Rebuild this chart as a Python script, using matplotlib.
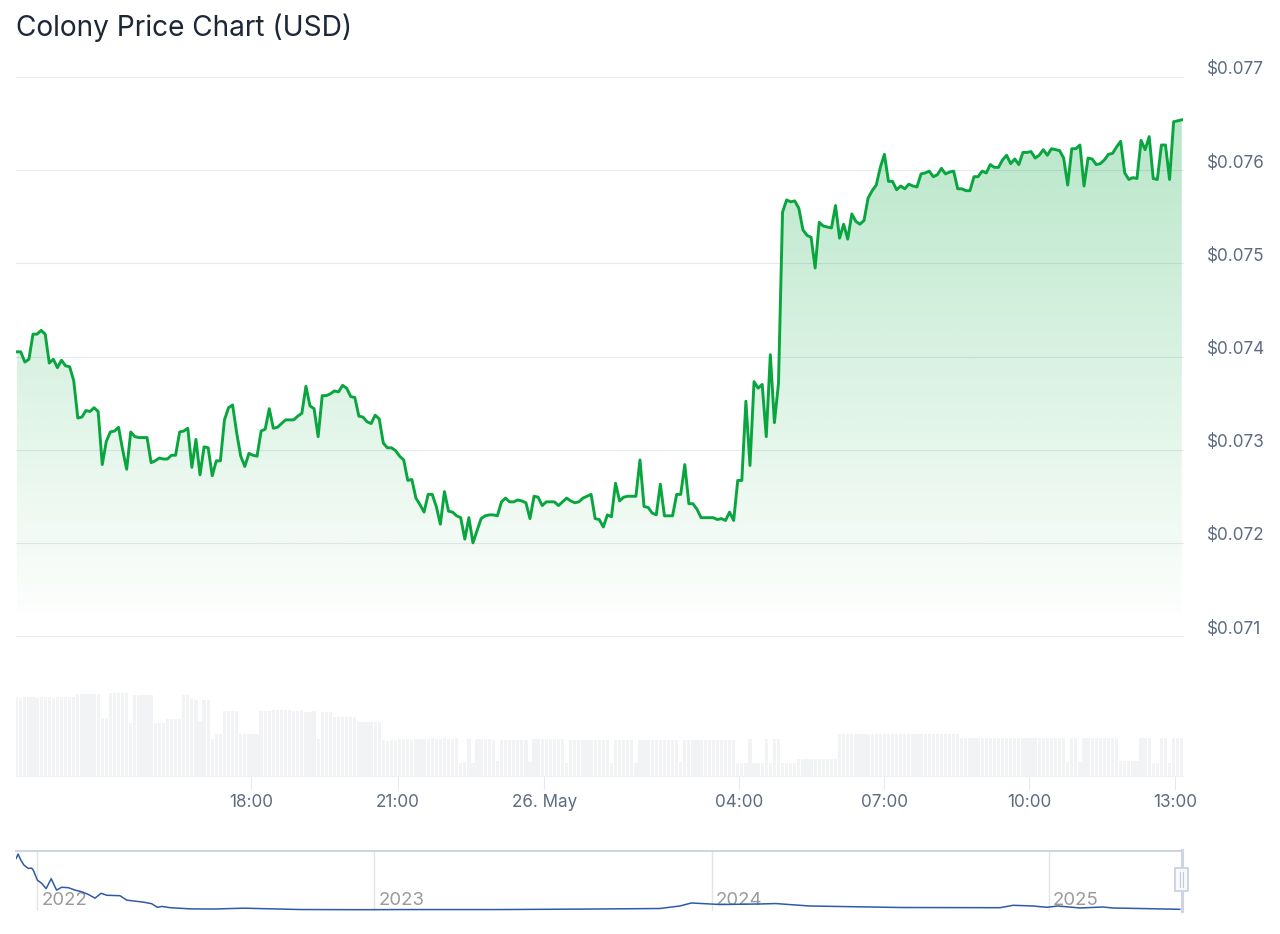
import matplotlib
matplotlib.use('Agg')
import matplotlib.pyplot as plt
import numpy as np
from matplotlib.patches import Rectangle, Polygon
from matplotlib.lines import Line2D
from matplotlib.transforms import ScaledTranslation

W, H = 1280, 934

# price, one reading every 5 minutes
price = [
    0.07405, 0.07405, 0.07394, 0.07397, 0.07424, 0.07424, 0.07428, 0.07424, 0.07393, 0.07397,
    0.07388, 0.07396, 0.07390, 0.07389, 0.07374, 0.07334, 0.07335, 0.07342, 0.07341, 0.07345,
    0.07341, 0.07284, 0.07309, 0.07319, 0.07320, 0.07324, 0.07300, 0.07279, 0.07319, 0.07314,
    0.07313, 0.07313, 0.07313, 0.07286, 0.07288, 0.07291, 0.07290, 0.07290, 0.07294, 0.07294,
    0.07319, 0.07320, 0.07323, 0.07281, 0.07311, 0.07273, 0.07303, 0.07302, 0.07272, 0.07288,
    0.07288, 0.07332, 0.07345, 0.07348, 0.07318, 0.07293, 0.07282, 0.07296, 0.07294, 0.07293,
    0.07320, 0.07322, 0.07344, 0.07323, 0.07324, 0.07328, 0.07332, 0.07332, 0.07332, 0.07336,
    0.07339, 0.07368, 0.07347, 0.07344, 0.07314, 0.07358, 0.07358, 0.07360, 0.07363, 0.07362,
    0.07369, 0.07366, 0.07357, 0.07356, 0.07336, 0.07335, 0.07330, 0.07328, 0.07337, 0.07333,
    0.07307, 0.07302, 0.07302, 0.07299, 0.07293, 0.07289, 0.07267, 0.07268, 0.07248, 0.07241,
    0.07233, 0.07252, 0.07252, 0.07239, 0.07220, 0.07255, 0.07234, 0.07233, 0.07229, 0.07227,
    0.07204, 0.07227, 0.07200, 0.07213, 0.07226, 0.07229, 0.07230, 0.07230, 0.07229, 0.07244,
    0.07248, 0.07244, 0.07244, 0.07246, 0.07245, 0.07243, 0.07226, 0.07250, 0.07249, 0.07240,
    0.07244, 0.07244, 0.07244, 0.07240, 0.07244, 0.07248, 0.07245, 0.07243, 0.07244, 0.07248,
    0.07250, 0.07252, 0.07226, 0.07225, 0.07217, 0.07230, 0.07228, 0.07264, 0.07245, 0.07249,
    0.07250, 0.07250, 0.07250, 0.07289, 0.07239, 0.07238, 0.07232, 0.07230, 0.07263, 0.07229,
    0.07229, 0.07229, 0.07252, 0.07252, 0.07284, 0.07242, 0.07242, 0.07236, 0.07227, 0.07227,
    0.07227, 0.07227, 0.07225, 0.07226, 0.07224, 0.07233, 0.07224, 0.07267, 0.07267, 0.07352,
    0.07283, 0.07373, 0.07366, 0.07370, 0.07314, 0.07402, 0.07329, 0.07371, 0.07555, 0.07568,
    0.07566, 0.07567, 0.07559, 0.07536, 0.07530, 0.07528, 0.07495, 0.07544, 0.07540, 0.07539,
    0.07538, 0.07562, 0.07527, 0.07542, 0.07526, 0.07553, 0.07545, 0.07542, 0.07546, 0.07570,
    0.07578, 0.07584, 0.07603, 0.07617, 0.07588, 0.07588, 0.07579, 0.07583, 0.07580, 0.07585,
    0.07583, 0.07582, 0.07596, 0.07597, 0.07599, 0.07593, 0.07595, 0.07602, 0.07596, 0.07598,
    0.07599, 0.07580, 0.07580, 0.07578, 0.07578, 0.07593, 0.07593, 0.07599, 0.07597, 0.07606,
    0.07603, 0.07603, 0.07611, 0.07616, 0.07607, 0.07612, 0.07606, 0.07619, 0.07619, 0.07620,
    0.07613, 0.07616, 0.07622, 0.07616, 0.07623, 0.07622, 0.07621, 0.07613, 0.07584, 0.07623,
    0.07623, 0.07627, 0.07583, 0.07613, 0.07612, 0.07606, 0.07607, 0.07611, 0.07617, 0.07618,
    0.07625, 0.07631, 0.07597, 0.07590, 0.07592, 0.07591, 0.07632, 0.07622, 0.07636, 0.07591,
    0.07590, 0.07627, 0.07627, 0.07590, 0.07652, 0.07653, 0.07654,
]

# volume bars, same 5 minute steps (no scale on the picture, arbitrary units)
volume = [
    79, 78, 79, 79, 79, 78, 79, 79, 79, 78, 79, 79, 79, 79, 79,
    82, 82, 82, 82, 82, 82, 58, 58, 83, 83, 83, 83, 83, 53,
    81, 81, 81, 81, 81, 53, 53, 53, 57, 57, 57, 57, 81, 81, 77,
    76, 55, 76, 76, 37, 42, 42, 65, 65, 65, 65, 42, 42, 42, 42, 42,
    65, 65, 65, 66, 66, 66, 66, 66, 65, 65, 66, 64, 64, 65, 37,
    64, 64, 64, 59, 59, 59, 59, 59, 59, 54, 54, 54, 54, 54, 54,
    36, 35, 36, 36, 37, 37, 37, 36, 37, 37, 37, 37, 38, 37, 37, 38, 37, 37, 38,
    13, 14, 37, 13, 37, 37, 37, 37, 36, 15, 36, 36, 36, 36, 36, 36, 36, 14, 37,
    37, 37, 37, 37, 37, 37, 37, 13, 36, 36, 36, 36, 36, 36, 36, 36, 36, 36, 13,
    36, 36, 36, 36, 36, 13, 36, 36, 36, 36, 36, 36, 36, 36, 36, 36, 14, 36, 36,
    36, 36, 36, 36, 36, 36, 36, 36, 36, 36, 36, 13, 13, 13, 37, 13, 13, 13, 37, 13, 37, 37,
    13, 13, 13, 13, 17, 17, 17, 17, 17, 17, 17, 17, 17, 17,
    42, 42, 42, 42, 42, 42, 42, 42, 42, 42, 42, 42, 42, 42, 42,
    42, 42, 42, 42, 42, 42, 42, 42, 42, 42, 42, 42, 42, 42, 42,
    38, 38, 38, 38, 38, 38, 38, 38, 38, 38, 38, 38, 38, 38, 38, 38, 38, 38, 38, 38,
    38, 38, 38, 38, 38, 38, 14, 38, 38, 14, 38, 38, 38, 38, 38, 38, 38, 38, 38,
    15, 15, 15, 15, 15, 38, 38, 38, 13, 13, 38, 38, 13, 38, 38, 38,
]

tick_slots = [57.6, 93.6, 129.5, 177.4, 213.0, 248.6, 284.4]
tick_labels = ['18:00', '21:00', '26. May', '04:00', '07:00', '10:00', '13:00']
price_ticks = [0.071, 0.072, 0.073, 0.074, 0.075, 0.076, 0.077]

# all time series for the navigator
nav_years = [
    2021.938, 2021.944, 2021.952, 2021.961, 2021.974, 2021.984, 2021.989, 2022.001, 2022.014, 2022.027,
    2022.042, 2022.058, 2022.073, 2022.093, 2022.113, 2022.132, 2022.152, 2022.172, 2022.190, 2022.207,
    2022.246, 2022.266, 2022.315, 2022.340, 2022.357, 2022.370, 2022.395, 2022.454, 2022.523, 2022.612,
    2022.780, 2022.977, 2023.076, 2023.373, 2023.670, 2023.847, 2023.906, 2023.940, 2024.025, 2024.143,
    2024.190, 2024.290, 2024.560, 2024.855, 2024.894, 2024.953, 2024.994, 2025.027, 2025.092, 2025.160,
    2025.190, 2025.388,
]
nav_price = [
    1.87, 2.02, 1.81, 1.64, 1.52, 1.53, 1.46, 1.11, 0.997, 0.81,
    1.16, 0.76, 0.86, 0.845, 0.76, 0.705, 0.61, 0.48, 0.65, 0.58,
    0.565, 0.41, 0.34, 0.285, 0.157, 0.19, 0.145, 0.104, 0.098, 0.128,
    0.081, 0.075, 0.08, 0.08, 0.10, 0.117, 0.205, 0.31, 0.257, 0.275,
    0.29, 0.205, 0.152, 0.145, 0.229, 0.205, 0.159, 0.205, 0.135, 0.17,
    0.135, 0.089,
]
nav_ticks = [2022, 2023, 2024, 2025]

plt.rcParams['font.family'] = ['Inter', 'DejaVu Sans']


def axes_px(left, top, right, bottom):
    return [left / W, 1 - bottom / H, (right - left) / W, (bottom - top) / H]


fig = plt.figure(figsize=(W / 100, H / 100), dpi=100, facecolor='white')
fig.text(16 / W, 1 - 28 / H, 'Colony Price Chart (USD)', fontsize=20.2, color='#1d2738', va='center', ha='left')

# slot limits shared by price and volume
slot_min = -0.17
slot_max = 286.3

# price panel
ax = fig.add_axes(axes_px(16, 77, 1183, 636))
x = np.arange(len(price))
ax.set_xticks([])
ax.set_yticks(price_ticks)
ax.set_yticklabels([f'${t:.3f}' for t in price_ticks], va='bottom')
ax.yaxis.tick_right()
ax.tick_params(axis='y', length=0, pad=17, labelsize=12.3, labelcolor='#5d6b82')
ax.grid(True, axis='y', color='#e6e9ee', lw=0.8)
ax.set_axisbelow(True)
for s in ax.spines.values():
    s.set_visible(False)
for g in ax.get_ygridlines():
    g.set_clip_on(False)
nudge = ScaledTranslation(0, -1.5 / 100, fig.dpi_scale_trans)
for label in ax.get_yticklabels():
    label.set_transform(label.get_transform() + nudge)

# green fade under the line
grad = np.zeros((256, 1, 4))
grad[..., 1] = 168 / 255
grad[..., 2] = 62 / 255
grad[..., 3] = np.linspace(0.28, 0.012, 256)[:, None]
img = ax.imshow(grad, aspect='auto', origin='upper', zorder=1.5,
                extent=[x[0], x[-1], 0.07125, max(price)])
poly = Polygon(list(zip(x, price)) + [(x[-1], 0.071), (x[0], 0.071)], closed=True,
               transform=ax.transData, facecolor='none', edgecolor='none')
ax.add_patch(poly)
img.set_clip_path(poly)
ax.plot(x, price, color='#09a53f', lw=2.1, solid_joinstyle='round', zorder=3)
ax.set_xlim(slot_min, slot_max)
ax.set_ylim(0.071, 0.077)

# volume panel
ax_vol = fig.add_axes(axes_px(16, 640, 1183, 776))
ax_vol.bar(np.arange(len(volume)), volume, width=0.8, color='#f1f3f5', linewidth=0)
ax_vol.set_xlim(slot_min, slot_max)
ax_vol.set_ylim(0, 136)
for name, s in ax_vol.spines.items():
    s.set_visible(name == 'bottom')
ax_vol.spines['bottom'].set_color('#eef1f4')
ax_vol.spines['bottom'].set_linewidth(0.8)
ax_vol.set_yticks([])
ax_vol.set_xticks(tick_slots)
ax_vol.set_xticklabels(tick_labels)
ax_vol.tick_params(axis='x', length=10, width=0.7, color='#e6e9ee', pad=3, labelsize=12.3, labelcolor='#5d6b82')
ax_vol.patch.set_alpha(0)

# navigator
ax_nav = fig.add_axes(axes_px(16, 851, 1183, 911))
ax_nav.set_xlim(2021.9377, 2025.3976)
ax_nav.set_ylim(0.0295, 2.1295)
for yr in nav_ticks:
    ax_nav.axvline(yr, color='#e2e4ea', lw=1.0, zorder=1)
    ax_nav.annotate(str(yr), xy=(yr, 0), xycoords=('data', 'axes fraction'), xytext=(3, 1.5),
                    textcoords='offset points', fontsize=13.4, color='#9a9a9a', ha='left', va='bottom', zorder=2)
ax_nav.plot(nav_years, nav_price, color='#2f5aa8', lw=1.1, zorder=3)
ax_nav.set_xticks([])
ax_nav.set_yticks([])
for name, s in ax_nav.spines.items():
    s.set_visible(name == 'top')
ax_nav.spines['top'].set_color('#cfd4e4')
ax_nav.spines['top'].set_linewidth(1.4)
ax_nav.patch.set_alpha(0)

# scrollbar handle at the right end of the navigator
fig.add_artist(Line2D([1182 / W, 1182 / W], [1 - 850 / H, 1 - 911 / H], color='#cfd4e4', lw=2.2, transform=fig.transFigure))
fig.add_artist(Rectangle((1175 / W, 1 - 891 / H), 13 / W, 23 / H, facecolor='#f8f9fb', edgecolor='#cfd4e4', lw=1.4,
                         transform=fig.transFigure, zorder=5))
for hx in (1179.5, 1183):
    fig.add_artist(Line2D([hx / W, hx / W], [1 - 872 / H, 1 - 887 / H], color='#c5cad6', lw=0.8,
                          transform=fig.transFigure, zorder=6))

fig.savefig('out.png', dpi=100, facecolor='white')
